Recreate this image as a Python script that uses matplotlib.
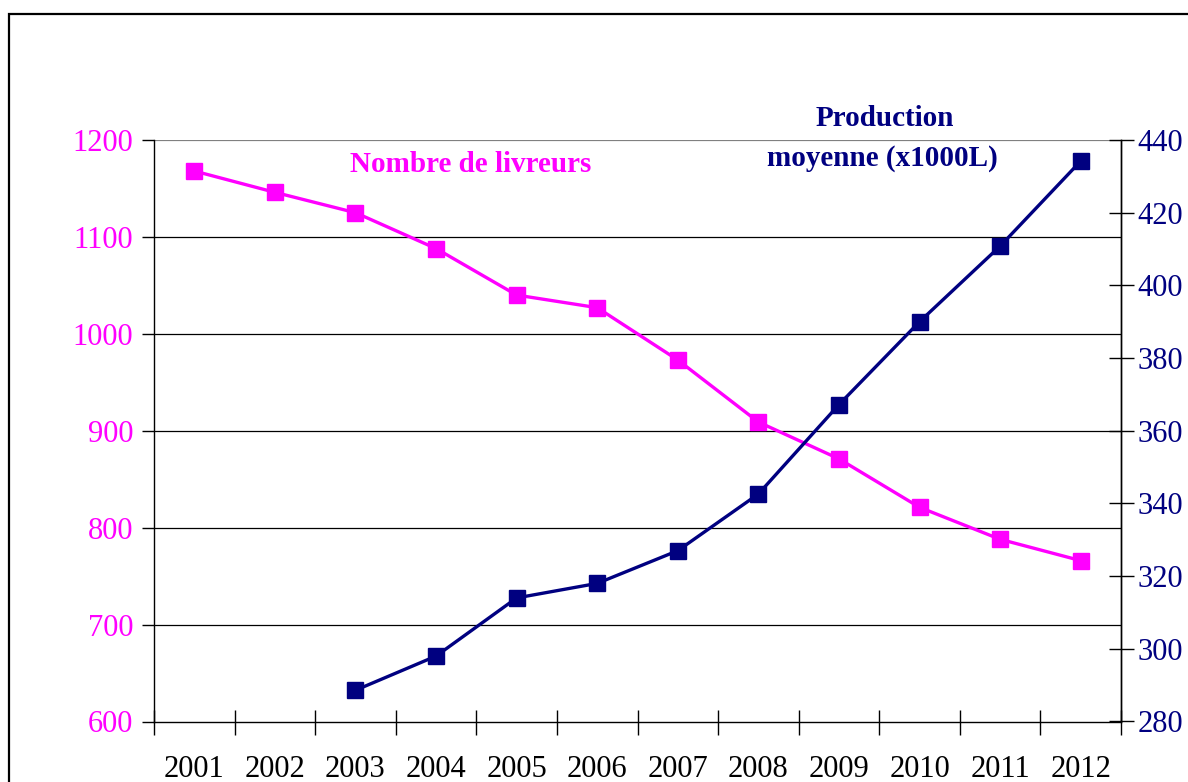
import numpy as np
import matplotlib
matplotlib.use('Agg')
import matplotlib.pyplot as plt
from matplotlib.patches import Rectangle
from matplotlib.ticker import FixedLocator, NullFormatter

# data
years = ['2001', '2002', '2003', '2004', '2005', '2006',
         '2007', '2008', '2009', '2010', '2011', '2012']
livreurs = [1168, 1146, 1125, 1088, 1040, 1027, 973, 909, 871, 821, 788, 766]
production = [np.nan, np.nan, 288.6, 298, 314, 318, 327, 342.6, 367.2, 390, 410.8, 434.2]

left_ticks = [600, 700, 800, 900, 1000, 1100, 1200]
right_ticks = [280, 300, 320, 340, 360, 380, 400, 420, 440]

MAGENTA = '#FF00FF'
NAVY = '#000080'

plt.rcParams['font.family'] = ['Liberation Serif', 'DejaVu Serif']

fig = plt.figure(figsize=(11.88, 7.82), dpi=100)
W, H = 1188, 782

# outer frame running off the right and bottom edges
fig.patches.append(Rectangle((9 / W, -0.1), 1.2, 1 - 14 / H + 0.1,
                             transform=fig.transFigure, fill=False,
                             edgecolor='black', linewidth=1.6))

ax = fig.add_axes([154 / W, 1 - 721.5 / H, (1121 - 154) / W, (721.5 - 140) / H])
ax2 = ax.twinx()

x = np.arange(len(years))

ax.set_xlim(-0.5, len(years) - 0.5)
ax.set_ylim(600, 1200)
ax2.set_ylim(280, 440)

# grid lines
for v in left_ticks[1:-1]:
    ax.axhline(v, color='black', linewidth=0.9, zorder=1)
ax.axhline(1200, color='#808080', linewidth=1.6, zorder=1)

ax.plot(x, livreurs, color=MAGENTA, linewidth=2.4, marker='s',
        markersize=12, zorder=3, clip_on=False)
ax2.plot(x, production, color=NAVY, linewidth=2.4, marker='s',
         markersize=12, zorder=3, clip_on=False)

# spines
for a in (ax, ax2):
    a.spines['top'].set_visible(False)
    for s in ('left', 'right', 'bottom'):
        a.spines[s].set_linewidth(1.0)
ax2.spines['left'].set_visible(False)
ax2.spines['bottom'].set_visible(False)

# x axis: ticks between categories, labels centred
ax.xaxis.set_major_locator(FixedLocator(np.arange(-0.5, len(years), 1.0)))
ax.xaxis.set_major_formatter(NullFormatter())
ax.xaxis.set_minor_locator(FixedLocator(x))
ax.set_xticklabels(years, minor=True)
ax.tick_params(axis='x', which='major', direction='inout', length=18, width=1.0)
ax.tick_params(axis='x', which='minor', length=0, pad=24, labelsize=22,
               labelcolor='black')

ax.set_yticks(left_ticks)
ax.tick_params(axis='y', direction='out', length=9, width=1.0,
               labelsize=22, labelcolor=MAGENTA, pad=6)

ax2.set_yticks(right_ticks)
ax2.tick_params(axis='y', direction='inout', length=18, width=1.0,
                labelsize=22, labelcolor=NAVY, pad=3)

ax.set_zorder(ax2.get_zorder() - 1)
ax2.patch.set_visible(False)

fig.text(471 / W, 1 - 165 / H, 'Nombre de livreurs', color=MAGENTA,
         fontsize=21, fontweight='bold', ha='center', va='center')
fig.text(885 / W, 1 - 118 / H, 'Production', color=NAVY,
         fontsize=21, fontweight='bold', ha='center', va='center')
fig.text(882 / W, 1 - 158 / H, 'moyenne (x1000L)', color=NAVY,
         fontsize=21, fontweight='bold', ha='center', va='center')

fig.savefig('out.png', dpi=100)
